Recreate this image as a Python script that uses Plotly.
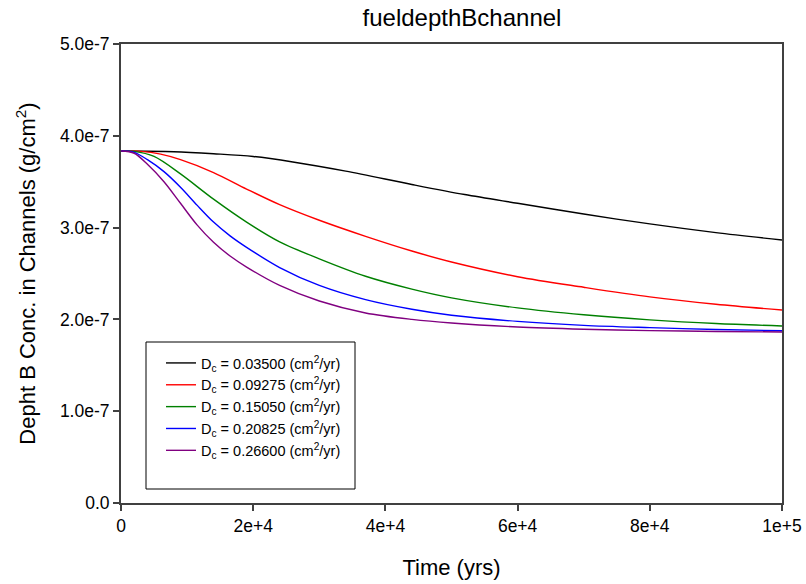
import plotly.graph_objects as go

# Time (yrs) and concentration (g/cm^2)
t_black = [0, 8000, 14000, 20000, 26000, 34000, 44000, 52000, 60000, 70000, 80000, 90000, 100000]
y_black = [3.834e-7, 3.827e-7, 3.805e-7, 3.775e-7, 3.715e-7, 3.615e-7, 3.47e-7, 3.36e-7, 3.265e-7, 3.148e-7, 3.04e-7, 2.945e-7, 2.865e-7]

t_red = [0, 3000, 6000, 9000, 14000, 19000, 24000, 30000, 37000, 44000, 50000, 60000, 70000, 80000, 90000, 100000]
y_red = [3.834e-7, 3.83e-7, 3.80e-7, 3.74e-7, 3.60e-7, 3.42e-7, 3.25e-7, 3.08e-7, 2.905e-7, 2.745e-7, 2.625e-7, 2.465e-7, 2.35e-7, 2.245e-7, 2.165e-7, 2.102e-7]

t_green = [0, 2000, 5000, 9000, 14000, 19000, 24000, 30000, 37000, 44000, 50000, 60000, 70000, 80000, 90000, 100000]
y_green = [3.834e-7, 3.83e-7, 3.775e-7, 3.585e-7, 3.31e-7, 3.06e-7, 2.845e-7, 2.66e-7, 2.47e-7, 2.33e-7, 2.235e-7, 2.125e-7, 2.05e-7, 1.995e-7, 1.955e-7, 1.928e-7]

t_blue = [0, 2000, 4000, 6500, 9000, 11500, 14000, 16500, 19000, 24000, 30000, 37000, 44000, 50000, 60000, 70000, 80000, 90000, 100000]
y_blue = [3.834e-7, 3.82e-7, 3.74e-7, 3.61e-7, 3.44e-7, 3.245e-7, 3.06e-7, 2.91e-7, 2.785e-7, 2.565e-7, 2.37e-7, 2.215e-7, 2.11e-7, 2.045e-7, 1.978e-7, 1.935e-7, 1.91e-7, 1.89e-7, 1.877e-7]

t_purple = [0, 2000, 4000, 6500, 9000, 11500, 14000, 16500, 19000, 24000, 30000, 37000, 44000, 50000, 60000, 70000, 80000, 90000, 100000]
y_purple = [3.834e-7, 3.81e-7, 3.69e-7, 3.50e-7, 3.265e-7, 3.03e-7, 2.84e-7, 2.69e-7, 2.57e-7, 2.37e-7, 2.20e-7, 2.07e-7, 2.00e-7, 1.96e-7, 1.917e-7, 1.893e-7, 1.878e-7, 1.869e-7, 1.863e-7]

labels = ["0.03500", "0.09275", "0.15050", "0.20825", "0.26600"]
colors = ["#000000", "#ff0000", "#008000", "#0000ff", "#800080"]
series = [(t_black, y_black), (t_red, y_red), (t_green, y_green), (t_blue, y_blue), (t_purple, y_purple)]

x_ticks = [0, 20000, 40000, 60000, 80000, 100000]
x_tick_text = ["0", "2e+4", "4e+4", "6e+4", "8e+4", "1e+5"]
y_ticks = [0, 1e-7, 2e-7, 3e-7, 4e-7, 5e-7]
y_tick_text = ["0.0", "1.0e-7", "2.0e-7", "3.0e-7", "4.0e-7", "5.0e-7"]

FONT = "Liberation Sans, Arial, sans-serif"

fig = go.Figure()
for (tx, ty), lab, col in zip(series, labels, colors):
    fig.add_trace(go.Scatter(
        x=tx, y=ty, mode="lines", line=dict(color=col, width=1.4, shape="spline", smoothing=0.9),
        name=f"D<sub>c</sub> = {lab} (cm<sup>2</sup>/yr)",
    ))

W, H = 806, 584
L, R, T, B = 121, 782, 44, 503

def px_x(p):
    return (p - L) / (R - L)

def px_y(p):
    return (B - p) / (B - T)

fig.add_shape(type="rect", xref="paper", yref="paper",
              x0=px_x(146), x1=px_x(355), y0=px_y(489), y1=px_y(342),
              line=dict(color="#000000", width=1), fillcolor="white", layer="below")

fig.update_layout(
    width=W, height=H,
    margin=dict(l=L, r=W - R, t=T, b=H - B, pad=0, autoexpand=False),
    paper_bgcolor="white", plot_bgcolor="white",
    font=dict(family=FONT, color="black", size=16),
    title=dict(text="fueldepthBchannel", x=px_x(462), xref="paper", xanchor="center",
               y=1 - 18 / H, yanchor="middle", font=dict(size=24, family=FONT)),
    showlegend=True,
    legend=dict(x=px_x(161), y=px_y(347), xanchor="left", yanchor="top",
                bgcolor="rgba(0,0,0,0)", borderwidth=0,
                font=dict(size=14.5, family=FONT), tracegroupgap=0),
    xaxis=dict(range=[0, 100000], tickvals=x_ticks, ticktext=x_tick_text, automargin=False,
               showgrid=False, zeroline=False, showline=True, linecolor="#404040", linewidth=2,
               mirror=True, ticks="outside", ticklen=6, tickcolor="#404040", tickwidth=1.5,
               tickfont=dict(size=17.5), title=dict(text="Time (yrs)", font=dict(size=22), standoff=25)),
    yaxis=dict(range=[0, 5e-7], tickvals=y_ticks, ticktext=y_tick_text, automargin=False,
               showgrid=False, zeroline=False, showline=True, linecolor="#404040", linewidth=2,
               mirror=True, ticks="outside", ticklen=6, tickcolor="#404040", tickwidth=1.5,
               tickfont=dict(size=17.5),
               title=dict(text="Depht B Conc. in Channels (g/cm<sup>2</sup>)", font=dict(size=22), standoff=18)),
)

fig.write_html("out.html")
